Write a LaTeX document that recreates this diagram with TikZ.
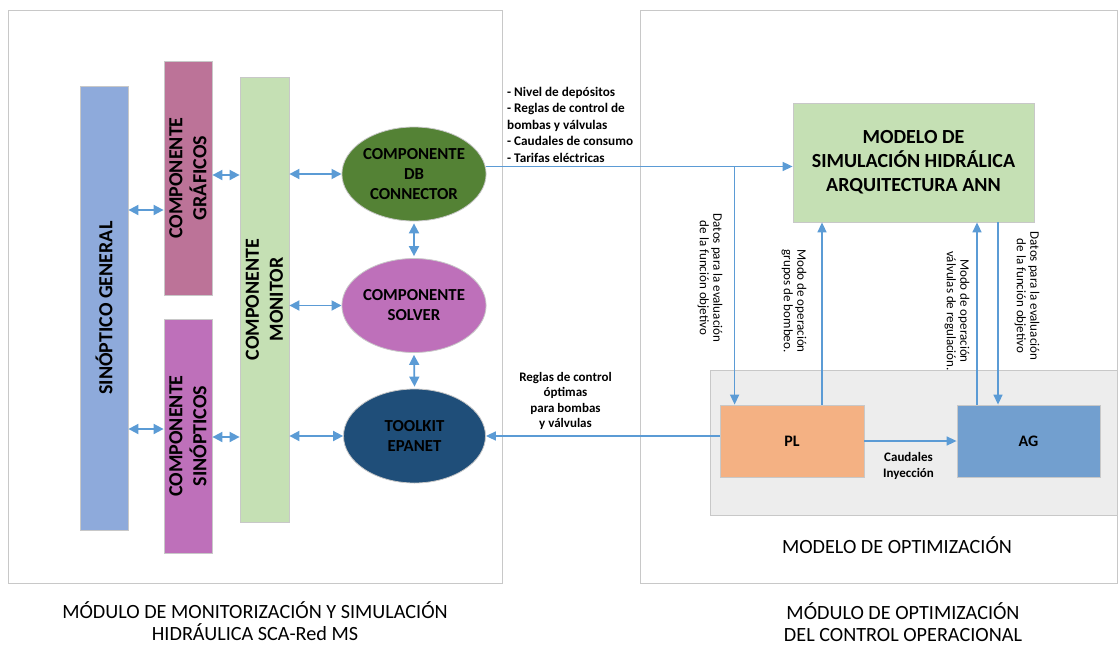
\documentclass[tikz,border=0pt]{standalone}
\usepackage{fontspec}
\setmainfont{Carlito}
\usetikzlibrary{arrows.meta,shapes.geometric}
\definecolor{flow}{HTML}{5B9BD5}
\definecolor{edge}{HTML}{C8C8C8}
\definecolor{cSG}{HTML}{8EAADB}
\definecolor{cGR}{HTML}{BC7398}
\definecolor{cSP}{HTML}{BE70BA}
\definecolor{cMON}{HTML}{C5E0B4}
\definecolor{cDB}{HTML}{548235}
\definecolor{cTK}{HTML}{1F4E79}
\definecolor{cOPT}{HTML}{EDEDED}
\definecolor{cPL}{HTML}{F4B183}
\definecolor{cAG}{HTML}{729FCF}
\tikzset{
  frame/.style={draw=edge, line width=0.8pt, inner sep=0pt},
  vbox/.style={draw=edge, line width=0.8pt, rotate=90, inner sep=0pt, align=center,
    font=\fontsize{20}{24}\selectfont\bfseries},
  oval/.style={ellipse, draw=edge, line width=0.8pt, inner sep=0pt,
    minimum width=142pt, minimum height=94pt, align=center,
    font=\fontsize{16.8}{20}\selectfont\bfseries},
  hbox/.style={draw=edge, line width=0.8pt, inner sep=0pt, align=center},
  arr/.style={draw=flow, line width=1.6pt, -{Triangle[length=10pt,width=9pt]}},
  biarr/.style={draw=flow, line width=1.8pt, {Triangle[length=10pt,width=10pt]}-{Triangle[length=10pt,width=10pt]}},
  note/.style={inner sep=0pt, align=center, font=\fontsize{13}{15.5}\selectfont\bfseries},
  vnote/.style={inner sep=0pt, align=center, rotate=-90, font=\fontsize{13}{13.5}\selectfont},
  caption/.style={inner sep=0pt, align=center, font=\fontsize{20.2}{22}\selectfont}
}
\begin{document}
\begin{tikzpicture}[x=1pt, y=-1pt]
\useasboundingbox (0,0) rectangle (1119,645);

% module frames
\node[frame, minimum width=494pt, minimum height=573pt] (left) at (255,296.5) {};
\node[frame, minimum width=477pt, minimum height=573pt] (right) at (878.5,296.5) {};

% monitoring and simulation components
\node[vbox, fill=cSG, minimum width=444pt, minimum height=48pt] (sg) at (104,308) {SINÓPTICO GENERAL};
\node[vbox, fill=cGR, minimum width=234pt, minimum height=48pt] (gr) at (188,178) {COMPONENTE\\GRÁFICOS};
\node[vbox, fill=cSP, minimum width=234pt, minimum height=48pt] (sp) at (188,436) {COMPONENTE\\SINÓPTICOS};
\node[vbox, fill=cMON, minimum width=445pt, minimum height=49pt] (mon) at (264.5,299.5) {COMPONENTE\\MONITOR};

\node[oval, fill=cDB] (db) at (414,174) {COMPONENTE\\DB\\CONNECTOR};
\node[oval, fill=cSP] (sv) at (414,305.5) {COMPONENTE\\SOLVER};
\node[oval, fill=cTK] (tk) at (414.5,436) {TOOLKIT\\EPANET};

% optimization module
\node[hbox, fill=cMON, minimum width=241pt, minimum height=119pt,
  font=\fontsize{20}{24}\selectfont\bfseries] (ann) at (913.5,162.5)
  {MODELO DE\\SIMULACIÓN HIDRÁLICA\\ARQUITECTURA ANN};
\node[hbox, fill=cOPT, minimum width=407pt, minimum height=145pt] (opt) at (913.5,442.5) {};
\node[hbox, fill=cPL, minimum width=144pt, minimum height=72pt,
  font=\fontsize{16}{20}\selectfont\bfseries] (pl) at (792,441) {PL};
\node[hbox, fill=cAG, minimum width=143pt, minimum height=72pt,
  font=\fontsize{16}{20}\selectfont\bfseries] (ag) at (1028.5,441) {AG};

% links inside the monitoring module
\draw[biarr] (sg.south |- 0,210) -- (gr.north |- 0,210);
\draw[biarr] (sg.south |- 0,429) -- (sp.north |- 0,429);
\draw[biarr] (gr.south |- 0,175) -- (mon.north |- 0,175);
\draw[biarr] (sp.south |- 0,437) -- (mon.north |- 0,437);
\draw[biarr] (mon.south |- db.west) -- (db.west);
\draw[biarr] (mon.south |- sv.west) -- (sv.west);
\draw[biarr] (mon.south |- tk.west) -- (tk.west);
\draw[biarr] ([yshift=-2pt]db.south) -- ([yshift=2pt]sv.north);
\draw[biarr] ([yshift=-2pt]sv.south) -- ([yshift=2pt]tk.north);

% data exchange between modules
\draw[arr] (db.6) -- (ann.west |- db.6);
\coordinate (br) at ([xshift=15pt]pl.west |- db.6);
\draw[arr] (br) -- (br |- pl.north);
\draw[arr] ([xshift=30pt]pl.north) -- ([xshift=30pt]pl.north |- ann.south);
\draw[arr] ([xshift=-51.5pt]ag.north) -- ([xshift=-51.5pt]ag.north |- ann.south);
\draw[arr] ([xshift=-30.5pt]ag.north |- ann.south) -- ([xshift=-30.5pt]ag.north);
\coordinate (plout) at ([yshift=5pt]pl.west);
\draw[arr] (plout) -- (tk.east |- plout);
\draw[arr] (pl.east) -- (ag.west);

% labels
\node[note, align=left, anchor=north west, font=\fontsize{13.2}{16.5}\selectfont\bfseries] (lst) at (507,87)
  {- Nivel de depósitos\\- Reglas de control de\\bombas y válvulas\\- Caudales de consumo\\- Tarifas eléctricas};
\node[note] (rg) at (565.5,401) {Reglas de control\\óptimas\\para bombas\\y válvulas};
\node[note] (cq) at (908.5,466) {Caudales\\Inyección};
\node[vnote] (d1) at (710,278) {Datos para la evaluación\\de la función objetivo};
\node[vnote] (m1) at (794,301) {Modo de operación\\grupos de bombeo.};
\node[vnote] (m2) at (957,311) {Modo de operación\\válvulas de regulación.};
\node[vnote] (d2) at (1027,296) {Datos para la evaluación\\de la función objetivo};

\node[caption] (optcap) at (897,545) {MODELO DE OPTIMIZACIÓN};
\node[caption] (lcap) at (255,621) {MÓDULO DE MONITORIZACIÓN Y SIMULACIÓN\\HIDRÁULICA SCA-Red MS};
\node[caption] (rcap) at (903,622) {MÓDULO DE OPTIMIZACIÓN\\DEL CONTROL OPERACIONAL};
\end{tikzpicture}
\end{document}
